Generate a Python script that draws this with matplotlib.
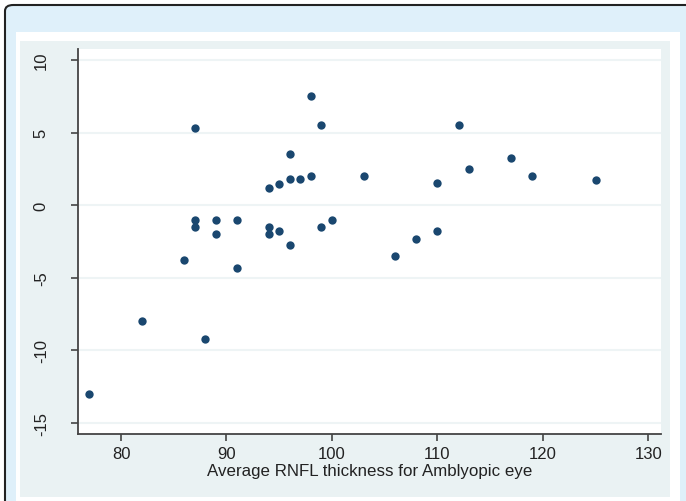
import matplotlib
matplotlib.use("Agg")
import matplotlib.pyplot as plt
from matplotlib.patches import Rectangle, FancyBboxPatch

# values
rnfl = [77, 82, 86, 87, 87, 87, 88, 89, 89, 91, 91, 94, 94, 94, 95, 95, 96, 96,
        96, 97, 98, 98, 99, 99, 100, 103, 106, 108, 110, 110, 112, 113, 117,
        119, 125]
diff = [-13.0, -8.0, -3.75, 5.3, -1.0, -1.5, -9.2, -1.0, -2.0, -1.0, -4.3,
        1.2, -1.5, -2.0, 1.45, -1.75, 3.5, 1.8, -2.75, 1.8, 7.5, 2.0, 5.5,
        -1.5, -1.0, 2.0, -3.5, -2.3, 1.5, -1.75, 5.5, 2.5, 3.25, 2.0, 1.75]
xticks = [80, 90, 100, 110, 120, 130]
yticks = [-15, -10, -5, 0, 5, 10]

W, H = 686, 502
plt.rcParams['font.family'] = ['Liberation Sans', 'DejaVu Sans']
fig = plt.figure(figsize=(W / 100, H / 100), dpi=100)
fig.patch.set_facecolor('white')


def box(x0, y0, x1, y1):
    # pixel box (top-left origin) -> figure fraction
    return (x0 / W, 1 - y1 / H), (x1 - x0) / W, (y1 - y0) / H


# page frame: light blue with black rounded edge on left/top
(xy, w, h) = box(5, 6, 720, 540)
fig.patches.append(FancyBboxPatch(xy, w, h, boxstyle="round,pad=0,rounding_size=0.012",
                                  transform=fig.transFigure, facecolor='#dff0fa',
                                  edgecolor='#222222', linewidth=1.5, zorder=-10))
(xy, w, h) = box(16, 33, 680, 503)
fig.patches.append(Rectangle(xy, w, h, transform=fig.transFigure,
                             facecolor='white', edgecolor='none', zorder=-9))
(xy, w, h) = box(20, 42, 670, 498)
fig.patches.append(Rectangle(xy, w, h, transform=fig.transFigure,
                             facecolor='#eaf2f3', edgecolor='none', zorder=-8))

ax = fig.add_axes([78 / W, 1 - 435 / H, (661 - 78) / W, (435 - 50) / H])
ax.set_zorder(1)
ax.set_facecolor('white')
ax.scatter(rnfl, diff, s=36, color='#1a476f', zorder=3, linewidths=0)

ax.set_xlim(75.92, 131.2)
ax.set_ylim(-15.76, 10.76)
ax.set_xticks(xticks)
ax.set_yticks(yticks)
ax.set_yticklabels([str(t) for t in yticks], rotation=90, va='center')
ax.grid(axis='y', color='#eef4f5', linewidth=1.5)
ax.set_axisbelow(True)

for s in ['top', 'right']:
    ax.spines[s].set_visible(False)
for s in ['left', 'bottom']:
    ax.spines[s].set_color('#444444')
    ax.spines[s].set_linewidth(1.3)

ax.tick_params(axis='both', colors='#444444', labelcolor='#222222',
               labelsize=12, length=5, width=1.2)
ax.tick_params(axis='x', pad=4)
ax.tick_params(axis='y', pad=16)

ax.set_xlabel('Average RNFL thickness for Amblyopic eye', fontsize=12.2,
              color='#222222', labelpad=1)

fig.savefig('out.png', dpi=100)
